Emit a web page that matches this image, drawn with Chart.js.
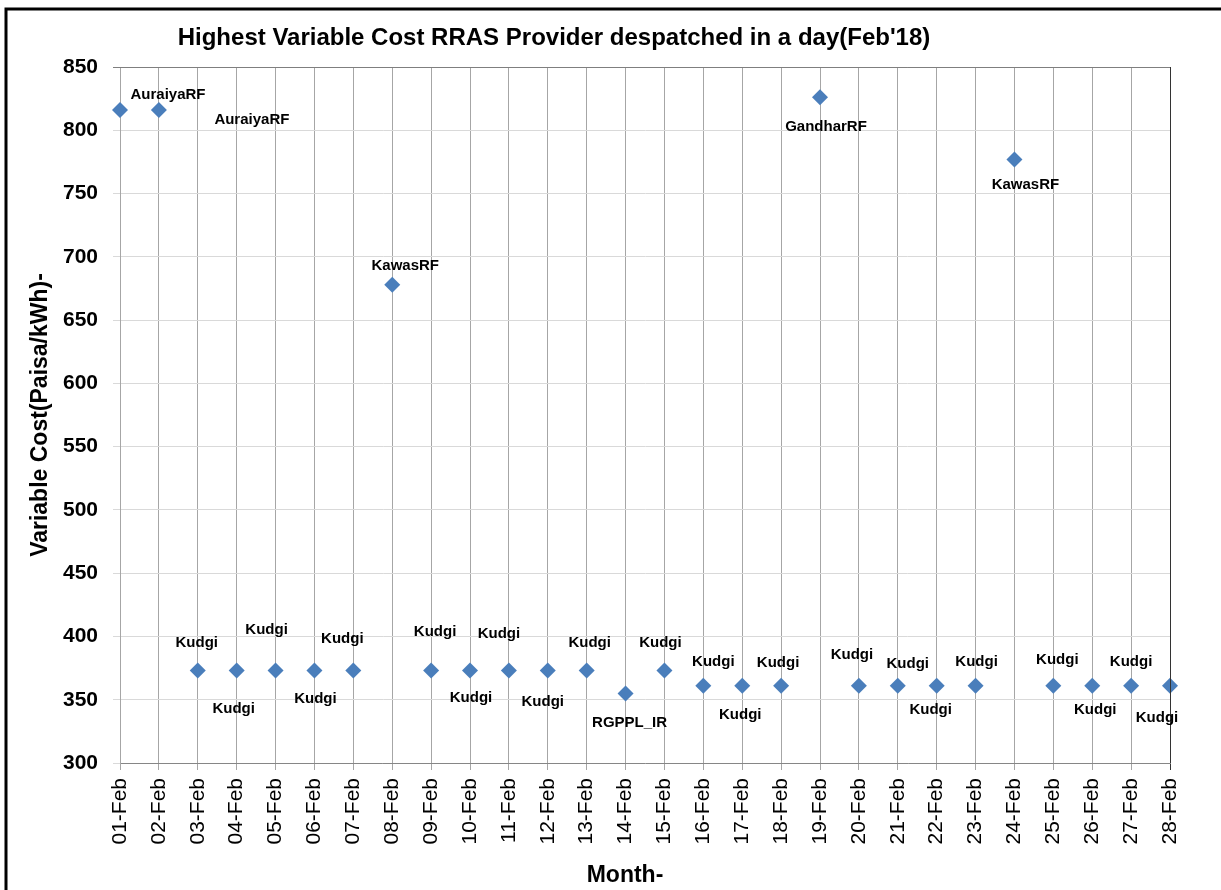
<!DOCTYPE html>
<html>
<head>
<meta charset="utf-8">
<script src="https://cdn.jsdelivr.net/npm/chart.js@4"></script>
<style>
  html, body { margin: 0; padding: 0; background: #fff; }
  #wrap { width: 1221px; height: 890px; }
</style>
</head>
<body>
<div id="wrap"><canvas id="costChart" width="1221" height="890"></canvas></div>
<script>
// --- date ---
const days = ['01-Feb', '02-Feb', '03-Feb', '04-Feb', '05-Feb', '06-Feb', '07-Feb', '08-Feb', '09-Feb', '10-Feb',
    '11-Feb', '12-Feb', '13-Feb', '14-Feb', '15-Feb', '16-Feb', '17-Feb', '18-Feb', '19-Feb', '20-Feb',
    '21-Feb', '22-Feb', '23-Feb', '24-Feb', '25-Feb', '26-Feb', '27-Feb', '28-Feb'];
const costs = [816, 816, 373, 373, 373, 373, 373, 678, 373, 373,
    373, 373, 373, 355, 373, 361, 361, 361, 826, 361,
    361, 361, 361, 777, 361, 361, 361, 361];
const providers = ['AuraiyaRF', 'AuraiyaRF', 'Kudgi', 'Kudgi', 'Kudgi', 'Kudgi', 'Kudgi', 'KawasRF', 'Kudgi', 'Kudgi',
    'Kudgi', 'Kudgi', 'Kudgi', 'RGPPL_IR', 'Kudgi', 'Kudgi', 'Kudgi', 'Kudgi', 'GandharRF', 'Kudgi',
    'Kudgi', 'Kudgi', 'Kudgi', 'KawasRF', 'Kudgi', 'Kudgi', 'Kudgi', 'Kudgi'];
const yMin = 300, yMax = 850, yStep = 50;

// pozitia etichetelor fata de punct (px)
const labelOffsets = [[48, -15], [93, 10], [-1, -28], [-3, 38], [-9, -41], [1, 28], [-11, -32], [13, -19], [4, -39], [1, 27],
    [-10, -37], [-5, 31], [3, -28], [4, 29], [-4, -28], [10, -24], [-2, 29], [-3, -23], [6, 29], [-7, -31],
    [10, -22], [-6, 24], [1, -24], [11, 25], [4, -26], [3, 24], [0, -24], [-13, 32]];

const FONT = "'Liberation Sans', Arial, sans-serif";

// etichete + titluri + chenar
const decorPlugin = {
    id: 'decor',
    afterDatasetsDraw(chart) {
        const ctx = chart.ctx;
        const area = chart.chartArea;
        ctx.save();
        // marginea de sus si dreapta a zonei de grafic
        ctx.strokeStyle = '#7f7f7f';
        ctx.lineWidth = 1;
        ctx.beginPath();
        ctx.moveTo(area.left, area.top + 0.5);
        ctx.lineTo(area.right, area.top + 0.5);
        ctx.stroke();
        ctx.strokeStyle = '#333';
        ctx.beginPath();
        ctx.moveTo(area.right + 0.5, area.top);
        ctx.lineTo(area.right + 0.5, area.bottom);
        ctx.stroke();

        // etichete puncte
        const meta = chart.getDatasetMeta(0);
        ctx.fillStyle = '#000';
        ctx.font = 'bold 15px ' + FONT;
        ctx.textAlign = 'center';
        ctx.textBaseline = 'middle';
        meta.data.forEach((pt, i) => {
            const off = labelOffsets[i];
            ctx.fillText(providers[i], pt.x + off[0], pt.y + off[1]);
        });

        // titlu
        ctx.font = 'bold 24px ' + FONT;
        ctx.fillText("Highest Variable Cost RRAS Provider despatched in a day(Feb'18)", 554, 38);

        // titlul axei X
        ctx.font = 'bold 23px ' + FONT;
        ctx.fillText('Month-', 625, 876);

        // chenar exterior
        ctx.strokeStyle = '#000';
        ctx.lineWidth = 3;
        ctx.beginPath();
        ctx.moveTo(6, chart.height);
        ctx.lineTo(6, 9);
        ctx.lineTo(chart.width, 9);
        ctx.stroke();
        ctx.restore();
    }
};

const chart = new Chart(document.getElementById('costChart').getContext('2d'), {
    type: 'line',
    data: {
        labels: days,
        datasets: [{
            label: 'Variable Cost',
            data: costs,
            showLine: false,
            pointStyle: 'rectRot',
            pointRadius: 8,
            pointHoverRadius: 8,
            pointBackgroundColor: '#4A7EBB',
            pointBorderColor: '#4A7EBB',
            pointBorderWidth: 0
        }]
    },
    options: {
        responsive: false,
        animation: false,
        layout: { padding: { left: 10, right: 51, top: 67, bottom: 0 } },
        plugins: {
            legend: { display: false },
            tooltip: { enabled: false }
        },
        scales: {
            x: {
                type: 'category',
                offset: false,
                afterFit: (scale) => { scale.height = 127; },
                grid: {
                    color: (c) => c.index === days.length - 1 ? '#333' : '#a6a6a6',
                    tickLength: 7,
                    offset: false
                },
                border: { color: '#868686' },
                ticks: {
                    autoSkip: false, minRotation: 90, maxRotation: 90, padding: 8,
                    color: '#000', font: { family: FONT, size: 21 }
                }
            },
            y: {
                min: yMin, max: yMax,
                afterFit: (scale) => { scale.width = 110; },
                grid: {
                    color: (c) => c.tick && c.tick.value === yMax ? '#7f7f7f' : '#d9d9d9',
                    tickLength: 7
                },
                border: { color: '#a6a6a6' },
                ticks: {
                    stepSize: yStep, padding: 15, color: '#000',
                    font: { family: FONT, size: 21, weight: 'bold' }
                },
                title: {
                    display: true, text: 'Variable Cost(Paisa/kWh)-', color: '#000',
                    font: { family: FONT, size: 23, weight: 'bold' },
                    padding: { top: 17, bottom: 0 }
                }
            }
        }
    },
    plugins: [decorPlugin]
});
</script>
</body>
</html>
